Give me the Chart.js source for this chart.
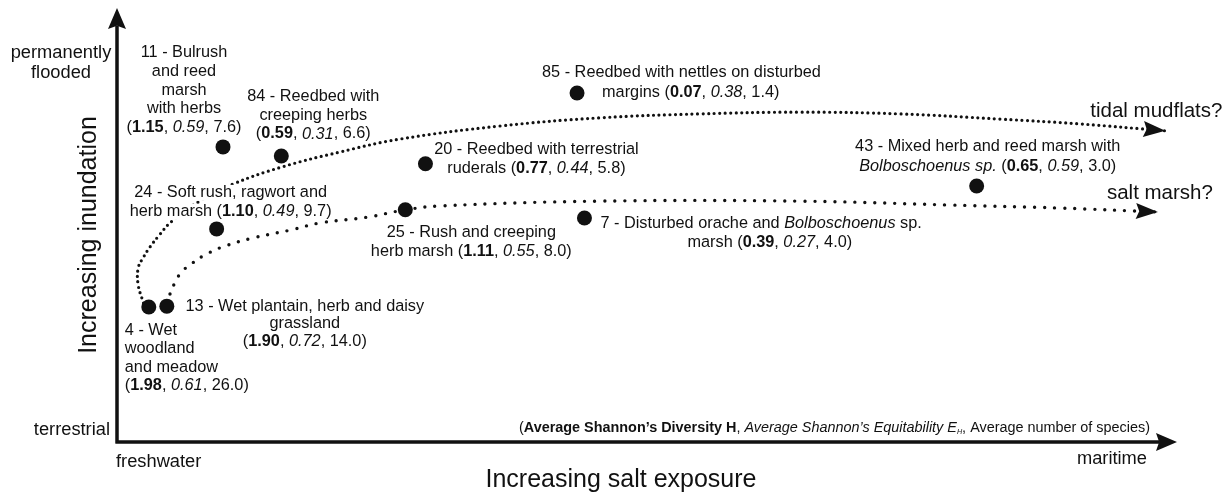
<!DOCTYPE html>
<html>
<head>
<meta charset="utf-8">
<script src="https://cdn.jsdelivr.net/npm/chart.js@4.4.1/dist/chart.umd.min.js"></script>
<style>
  html, body { margin: 0; padding: 0; background: #fff; }
  #wrap { position: relative; width: 1230px; height: 494px; }
</style>
</head>
<body>
<div id="wrap"><canvas id="chart"></canvas></div>
<script>
// Vegetation communities along the salt exposure / inundation gradients

// --- data ---
var siteIds = [4, 13, 11, 84, 24, 20, 25, 85, 7, 43];
var siteNames = [
  'Wet\nwoodland\nand meadow',
  'Wet plantain, herb and daisy\ngrassland',
  'Bulrush\nand reed\nmarsh\nwith herbs',
  'Reedbed with\ncreeping herbs',
  'Soft rush, ragwort and\nherb marsh',
  'Reedbed with terrestrial\nruderals',
  'Rush and creeping\nherb marsh',
  'Reedbed with nettles on disturbed\nmargins',
  'Disturbed orache and *Bolboschoenus* sp.\nmarsh',
  'Mixed herb and reed marsh with\n*Bolboschoenus sp.*'
];
var diversityH = [1.98, 1.90, 1.15, 0.59, 1.10, 0.77, 1.11, 0.07, 0.39, 0.65];
var equitabilityE = [0.61, 0.72, 0.59, 0.31, 0.49, 0.44, 0.55, 0.38, 0.27, 0.59];
var speciesCount = [26.0, 14.0, 7.6, 6.6, 9.7, 5.8, 8.0, 1.4, 4.0, 3.0];
// position on the (unitless) salt exposure and inundation gradients
var saltX = [3.0, 4.7, 10.0, 15.5, 9.4, 29.1, 27.2, 43.4, 44.1, 81.1];
var inundationY = [31.1, 31.3, 68.0, 65.9, 49.1, 64.1, 53.5, 80.4, 51.6, 59.0];

// trajectories
var tidalX = [2.5, 2.0, 2.0, 2.5, 3.1, 4.0, 5.1, 7.8, 10.9, 15.6, 21.0, 26.7, 36.1, 45.6, 55.0, 64.4, 73.9, 83.3, 90.8, 98.9];
var tidalY = [32.0, 36.2, 40.1, 42.6, 44.9, 47.7, 50.7, 55.5, 59.4, 63.4, 66.8, 69.8, 72.8, 74.7, 75.6, 76.0, 75.6, 74.4, 73.3, 71.7];
var saltMarshX = [5.0, 5.5, 6.1, 7.1, 8.3, 9.9, 12.8, 16.3, 19.2, 23.6, 27.2, 30.5, 45.6, 64.4, 78.6, 89.0, 98.2];
var saltMarshY = [34.1, 36.9, 39.2, 41.2, 43.1, 44.9, 47.0, 48.8, 50.5, 51.8, 53.5, 54.4, 55.5, 55.5, 54.6, 53.9, 53.0];

var axisText = {
  yHigh: ['permanently', 'flooded'],
  yLow: 'terrestrial',
  xLow: 'freshwater',
  xHigh: 'maritime',
  yTitle: 'Increasing inundation',
  xTitle: 'Increasing salt exposure',
  tidal: 'tidal mudflats?',
  saltMarsh: 'salt marsh?'
};

// --- label layout (pixel offsets from each point) ---
var labelLayout = {
  4:  { dx: -24, dy: 23, align: 'left', lh: 18.5, sep: '\n' },
  13: { dx: 138, dy: 0, align: 'center', lh: 17.5, sep: '\n' },
  11: { dx: -39, dy: -94, align: 'center', lh: 18.7, sep: '\n' },
  84: { dx: 32, dy: -59, align: 'center', lh: 18.5, sep: '\n' },
  24: { dx: 14, dy: -36, align: 'center', lh: 19, sep: ' ', bg: true },
  20: { dx: 111, dy: -14, align: 'center', lh: 18.5, sep: ' ' },
  25: { dx: 66, dy: 23, align: 'center', lh: 19, sep: ' ' },
  85: { lineDx: [-35, 25], dy: -21, align: 'left', lh: 20, sep: ' ' },
  7:  { lineDx: [16, 103], dy: 5, align: 'left', lh: 19, sep: ' ' },
  43: { dx: 11, dy: -39, align: 'center', lh: 20, sep: ' ' }
};

var FONT = '"Liberation Sans", Arial, Helvetica, sans-serif';
var INK = '#111';
var LABEL_SIZE = 16.3;
var END_SIZE = 18.3;
var TITLE_SIZE = 25;

function fontFor(style, size) {
  var w = style === 'b' ? 'bold ' : '';
  var it = style === 'i' ? 'italic ' : '';
  return it + w + size + 'px ' + FONT;
}

function parseLine(str) {
  var parts = str.split('*');
  var segs = [];
  parts.forEach(function (p, i) {
    if (p) segs.push({ t: p, s: i % 2 ? 'i' : '' });
  });
  return segs;
}

function buildLabel(i) {
  var lay = labelLayout[siteIds[i]];
  var lines = (siteIds[i] + ' - ' + siteNames[i]).split('\n').map(parseLine);
  var stats = [
    { t: '(', s: '' },
    { t: diversityH[i].toFixed(2), s: 'b' },
    { t: ', ', s: '' },
    { t: equitabilityE[i].toFixed(2), s: 'i' },
    { t: ', ' + speciesCount[i].toFixed(1) + ')', s: '' }
  ];
  if (lay.sep === '\n') {
    lines.push(stats);
  } else {
    var last = lines[lines.length - 1];
    last.push({ t: ' ', s: '' });
    lines[lines.length - 1] = last.concat(stats);
  }
  return lines;
}

function drawSegs(ctx, segs, x, y, align, size, bg) {
  var w = 0;
  segs.forEach(function (s) { ctx.font = fontFor(s.s, size); s.w = ctx.measureText(s.t).width; w += s.w; });
  var sx = align === 'center' ? x - w / 2 : (align === 'right' ? x - w : x);
  if (bg) {
    ctx.fillStyle = '#fff';
    ctx.fillRect(sx - 2, y - 8, w + 4, 16);
  }
  ctx.fillStyle = INK;
  ctx.textAlign = 'left';
  ctx.textBaseline = 'middle';
  segs.forEach(function (s) {
    ctx.font = fontFor(s.s, size);
    ctx.fillText(s.t, sx, y);
    sx += s.w;
  });
}

function arrowHead(ctx, x, y, angle, len, half) {
  ctx.save();
  ctx.translate(x, y);
  ctx.rotate(angle);
  ctx.beginPath();
  ctx.moveTo(0, 0);
  ctx.lineTo(-len, -half);
  ctx.lineTo(-len * 0.85, 0);
  ctx.lineTo(-len, half);
  ctx.closePath();
  ctx.fillStyle = INK;
  ctx.fill();
  ctx.restore();
}

var diagramPlugin = {
  id: 'diagram',
  beforeDatasetsDraw: function (chart) {
    var ctx = chart.ctx, a = chart.chartArea;
    ctx.save();
    ctx.strokeStyle = INK;
    ctx.lineWidth = 3.5;
    ctx.beginPath();
    ctx.moveTo(a.left, a.bottom + 1.5);
    ctx.lineTo(a.left, a.top + 18);
    ctx.moveTo(a.left - 1.5, a.bottom);
    ctx.lineTo(a.right - 18, a.bottom);
    ctx.stroke();
    arrowHead(ctx, a.left, a.top, -Math.PI / 2, 21, 9);
    arrowHead(ctx, a.right, a.bottom, 0, 21, 9);
    ctx.restore();
  },
  afterDatasetsDraw: function (chart) {
    var ctx = chart.ctx, a = chart.chartArea;
    var xs = chart.scales.x, ys = chart.scales.y;
    ctx.save();

    // curve arrowheads
    [1, 2].forEach(function (di) {
      var pts = chart.getDatasetMeta(di).data;
      var p = pts[pts.length - 1], q = pts[pts.length - 2];
      var fx = p.cp1x != null ? p.cp1x : q.x, fy = p.cp1y != null ? p.cp1y : q.y;
      if (Math.abs(p.x - fx) < 0.5 && Math.abs(p.y - fy) < 0.5) { fx = q.x; fy = q.y; }
      arrowHead(ctx, p.x, p.y, Math.atan2(p.y - fy, p.x - fx), 22, 8);
    });

    // site labels
    siteIds.forEach(function (id, i) {
      var lay = labelLayout[id];
      var px = xs.getPixelForValue(saltX[i]);
      var py = ys.getPixelForValue(inundationY[i]);
      buildLabel(i).forEach(function (segs, li) {
        var dx = lay.lineDx ? lay.lineDx[li] : lay.dx;
        drawSegs(ctx, segs, px + dx, py + lay.dy + li * lay.lh, lay.align, LABEL_SIZE, lay.bg);
      });
    });

    // trajectory names
    var tEnd = tidalX.length - 1, sEnd = saltMarshX.length - 1;
    drawSegs(ctx, [{ t: axisText.tidal, s: '' }], xs.getPixelForValue(tidalX[tEnd]) - 9,
      ys.getPixelForValue(tidalY[tEnd]) - 19, 'center', 20.5);
    drawSegs(ctx, [{ t: axisText.saltMarsh, s: '' }], xs.getPixelForValue(saltMarshX[sEnd]) + 2,
      ys.getPixelForValue(saltMarshY[sEnd]) - 19, 'center', 20.5);

    // axis end labels
    drawSegs(ctx, [{ t: axisText.yHigh[0], s: '' }], 61, 53, 'center', END_SIZE);
    drawSegs(ctx, [{ t: axisText.yHigh[1], s: '' }], 61, 73, 'center', END_SIZE);
    drawSegs(ctx, [{ t: axisText.yLow, s: '' }], a.left - 7, a.bottom - 12, 'right', END_SIZE);
    drawSegs(ctx, [{ t: axisText.xLow, s: '' }], a.left - 1, a.bottom + 20, 'left', END_SIZE);
    drawSegs(ctx, [{ t: axisText.xHigh, s: '' }], a.right - 30, a.bottom + 17, 'right', END_SIZE);

    // axis titles
    drawSegs(ctx, [{ t: axisText.xTitle, s: '' }], 621, 480, 'center', TITLE_SIZE);
    ctx.save();
    ctx.translate(89, 235);
    ctx.rotate(-Math.PI / 2);
    drawSegs(ctx, [{ t: axisText.yTitle, s: '' }], 0, 0, 'center', TITLE_SIZE);
    ctx.restore();

    // caption key, squeezed to the narrow face of the original
    var cap = [
      { t: '(', s: '' },
      { t: 'Average Shannon\u2019s Diversity H', s: 'b' },
      { t: ', ', s: '' },
      { t: 'Average Shannon\u2019s Equitability E', s: 'i' },
      { t: 'H', s: 'sub' },
      { t: ', Average number of species)', s: '' }
    ];
    var total = 0;
    cap.forEach(function (s) {
      ctx.font = s.s === 'sub' ? fontFor('i', 7) : fontFor(s.s, 14);
      s.w = ctx.measureText(s.t).width;
      total += s.w;
    });
    var capRight = a.right - 27, capW = 631;
    ctx.save();
    ctx.translate(capRight - capW, a.bottom - 14);
    ctx.scale(capW / total, 1);
    ctx.fillStyle = INK;
    ctx.textBaseline = 'middle';
    ctx.textAlign = 'left';
    var cx = 0;
    cap.forEach(function (s) {
      ctx.font = s.s === 'sub' ? fontFor('i', 7) : fontFor(s.s, 14);
      ctx.fillText(s.t, cx, s.s === 'sub' ? 4 : 0);
      cx += s.w;
    });
    ctx.restore();

    ctx.restore();
  }
};

function toPoints(xs, ys) {
  return xs.map(function (x, i) { return { x: x, y: ys[i] }; });
}

new Chart(document.getElementById('chart'), {
  type: 'scatter',
  data: {
    datasets: [{
      label: 'Sites',
      data: toPoints(saltX, inundationY),
      pointRadius: 7.5,
      pointBackgroundColor: INK,
      pointBorderWidth: 0,
      showLine: false
    }, {
      label: 'Tidal mudflats',
      data: toPoints(tidalX, tidalY),
      showLine: true,
      pointRadius: 0,
      borderColor: INK,
      borderWidth: 3.2,
      borderDash: [0, 5.5],
      borderCapStyle: 'round',
      tension: 0.4
    }, {
      label: 'Salt marsh',
      data: toPoints(saltMarshX, saltMarshY),
      showLine: true,
      pointRadius: 0,
      borderColor: INK,
      borderWidth: 3.4,
      borderDash: [0, 10],
      borderCapStyle: 'round',
      tension: 0.4
    }]
  },
  options: {
    responsive: true,
    maintainAspectRatio: false,
    animation: false,
    layout: { padding: { left: 117, right: 53, top: 8, bottom: 52 } },
    scales: {
      x: { type: 'linear', min: 0, max: 100, display: false },
      y: { type: 'linear', min: 0, max: 100, display: false }
    },
    plugins: {
      legend: { display: false },
      tooltip: { enabled: false }
    }
  },
  plugins: [diagramPlugin]
});
</script>
</body>
</html>
